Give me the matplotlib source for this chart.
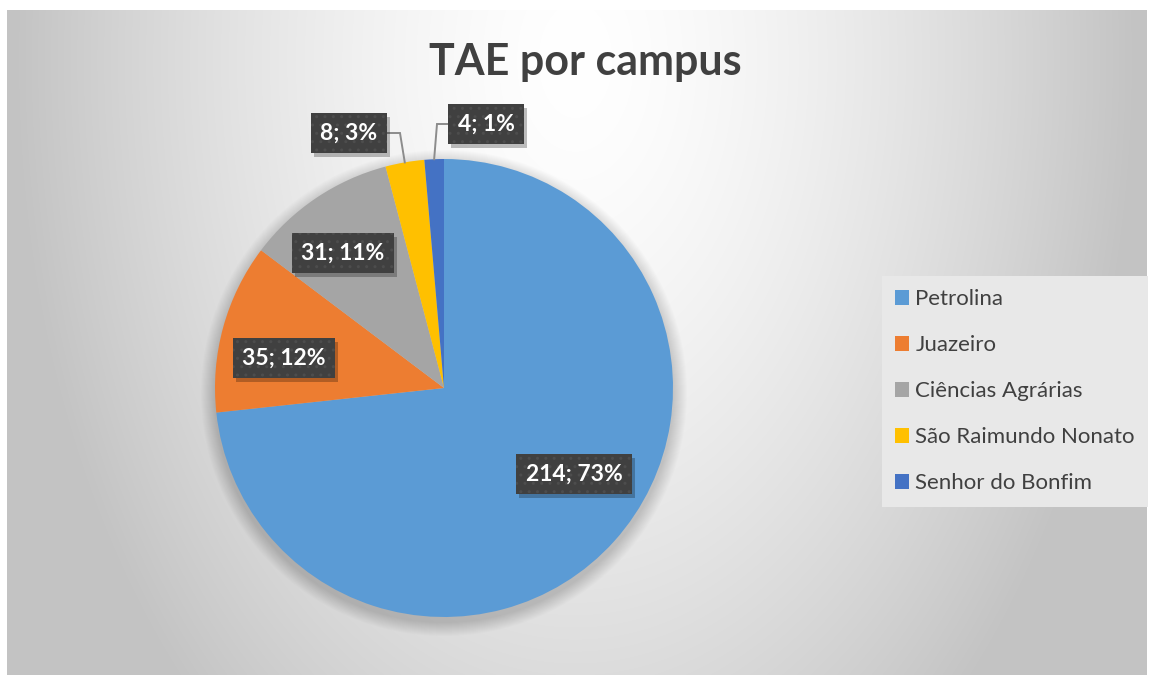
import numpy as np
import matplotlib
matplotlib.use("Agg")
import matplotlib.pyplot as plt
from matplotlib.patches import Circle, Rectangle

# ---------------------------------------------------------------------------
# Data
# ---------------------------------------------------------------------------
campuses = ["Petrolina", "Juazeiro", "Ciências Agrárias",
            "São Raimundo Nonato", "Senhor do Bonfim"]
counts = [214, 35, 31, 8, 4]
colors = ["#5B9BD5", "#ED7D31", "#A5A5A5", "#FFC000", "#4472C4"]
title = "TAE por campus"

# label centres (pixels, from top-left) and leader elbows for outside labels
label_xy = [(574, 474), (284, 358), (343, 253), (349, 133), (486, 124)]
leader_elbow = {3: (400, 133), 4: (437, 124)}

W, H = 1150, 675
CX, CY, R = 444, 388, 229          # pie centre / radius in pixels (from top)

plt.rcParams["font.family"] = ["Lato", "DejaVu Sans"]

fig = plt.figure(figsize=(W / 100, H / 100), dpi=100)
fig.patch.set_facecolor("white")
ax = fig.add_axes([0, 0, 1, 1])

# background: soft radial gradient, light at top centre
yy, xx = np.mgrid[0:H, 0:W]
r = np.hypot((xx - 575) / 575.0, (yy - 60) / 900.0)
val = np.clip(255 - 62 * r ** 1.5, 195, 255) / 255.0
val[:10, :] = 1.0
val[:, :7] = 1.0
val[:, W - 3:] = 1.0
ax.imshow(np.dstack([val, val, val]), extent=(0, W, 0, H), origin="upper",
          zorder=0, interpolation="bilinear")

# soft shadow under pie
for k in range(14):
    ax.add_patch(Circle((CX, H - CY - 5), R + 14 - k, color="black",
                        alpha=0.012, lw=0, zorder=1))

total = sum(counts)
wedges, _ = ax.pie(counts, colors=colors, startangle=90, counterclock=False,
                   center=(CX, H - CY), radius=R,
                   wedgeprops=dict(linewidth=0))
for w in wedges:
    w.set_zorder(2)

# data labels
label_texts = []
for i, (w, n) in enumerate(zip(wedges, counts)):
    pct = round(100 * n / total)
    lx, ly = label_xy[i]
    ly = H - ly
    if i in leader_elbow:
        mid = np.deg2rad((w.theta1 + w.theta2) / 2)
        px = CX + R * np.cos(mid)
        py = (H - CY) + R * np.sin(mid)
        ex, ey = leader_elbow[i]
        ax.plot([lx, ex, px], [ly, H - ey, py], color="#8c8c8c", lw=1.4,
                zorder=3, solid_joinstyle="miter")
    t = ax.text(lx, ly, f"{n}; {pct}%", ha="center", va="center",
                fontsize=16.5, fontweight="bold", color="white", zorder=5,
                bbox=dict(boxstyle="square,pad=0.4", fc="#404040",
                          ec="#4d4d4d", lw=0, hatch=".."))
    label_texts.append(t)

ax.set_xlim(0, W)
ax.set_ylim(0, H)
ax.set_aspect("equal")
ax.axis("off")

# drop shadow behind each label box
fig.canvas.draw()
renderer = fig.canvas.get_renderer()
inv = ax.transData.inverted()
for t in label_texts:
    bb = t.get_bbox_patch().get_window_extent(renderer)
    (x0, y0), (x1, y1) = inv.transform([[bb.x0, bb.y0], [bb.x1, bb.y1]])
    ax.add_patch(Rectangle((x0 + 3, y0 - 4), x1 - x0, y1 - y0, fc="black",
                           ec="none", alpha=0.25, zorder=4))

fig.text(585 / W, 1 - 62 / H, title, ha="center", va="center",
         fontsize=31, fontweight="bold", color="#404040")

leg = ax.legend(wedges, campuses, loc="upper left",
                bbox_to_anchor=(882 / W, 1 - 276 / H), bbox_transform=fig.transFigure,
                borderaxespad=0, frameon=True, fancybox=False,
                fontsize=16, handlelength=0.6, handleheight=0.6,
                handletextpad=0.3, labelspacing=1.17,
                borderpad=0.6, labelcolor="#404040")
leg.get_frame().set_facecolor("#e8e8e8")
leg.get_frame().set_edgecolor("none")
leg.get_frame().set_alpha(1)

fig.savefig("out.png", dpi=100)
